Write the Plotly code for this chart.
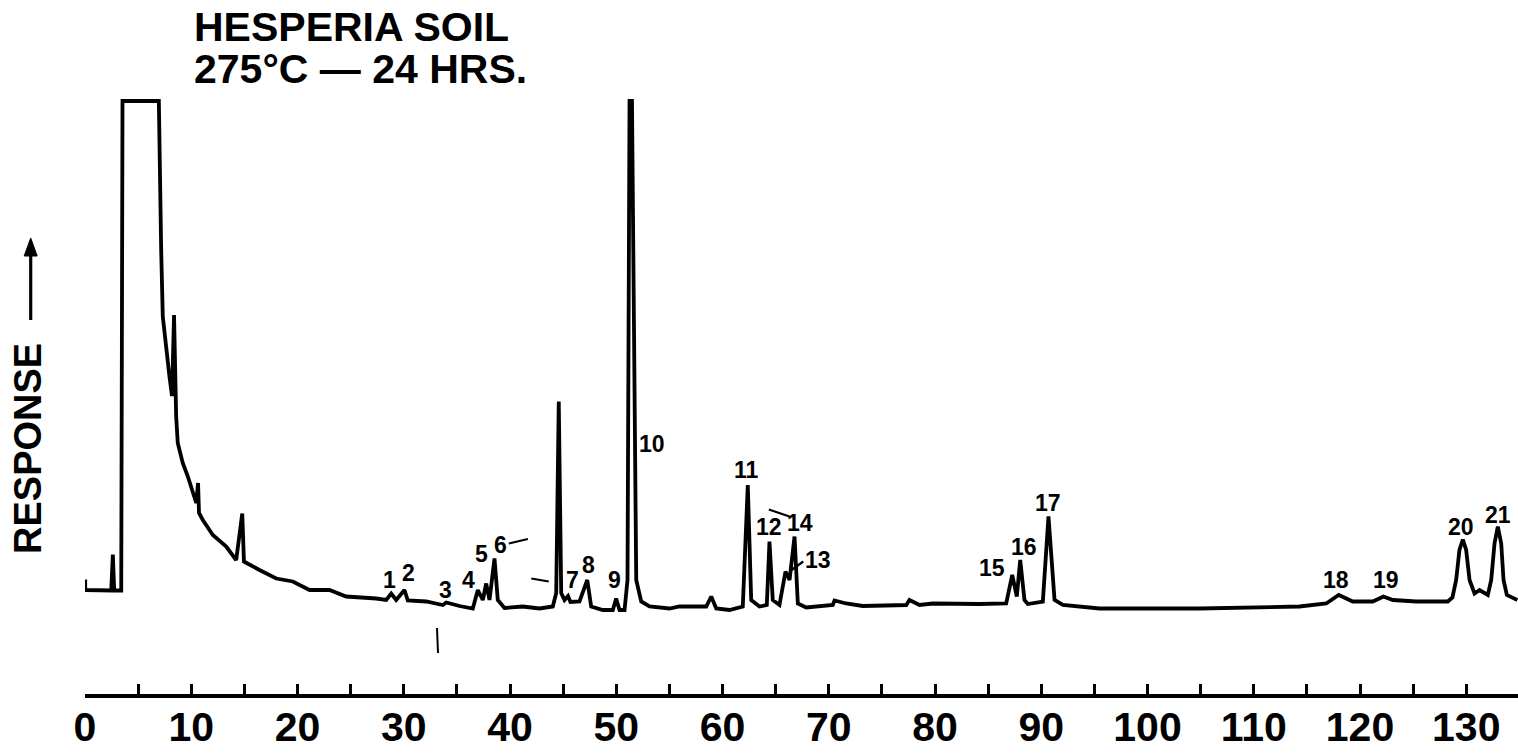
import plotly.graph_objects as go

# ---------------- data ----------------
# retention time in minutes
time_min = [0.02, 0.02, 2.47, 2.62, 2.75, 3.41, 3.53, 6.95, 7.17, 7.32, 7.95,
            8.09, 8.19, 8.38, 8.52, 8.58, 8.73, 9.20, 9.68, 10.47, 10.64, 10.73,
            11.09, 12.03, 13.29, 14.23, 14.80, 14.96, 16.42, 18.00, 19.56, 21.13,
            23.01, 24.58, 27.41, 28.35, 28.82, 29.29, 30.07, 30.38, 32.11, 33.68,
            34.00, 35.25, 36.50, 36.97, 37.44, 37.76, 38.07, 38.54, 38.85, 39.48,
            41.20, 42.78, 44.03, 44.35, 44.59, 44.82, 45.13, 45.46, 45.69, 46.54,
            47.27, 47.64, 48.73, 49.68, 49.99, 50.31, 50.78, 51.06, 51.25, 51.48,
            51.88, 52.35, 53.13, 55.01, 55.95, 58.47, 58.94, 59.41, 60.66, 61.91,
            62.38, 62.70, 63.48, 64.17, 64.42, 64.73, 65.36, 65.93, 66.31, 66.78,
            67.09, 67.88, 70.38, 70.54, 71.64, 73.20, 77.29, 77.60, 78.54, 79.79,
            84.19, 86.70, 87.27, 87.70, 88.02, 88.42, 88.73, 90.15, 90.68, 91.25,
            92.03, 93.60, 95.48, 104.89, 114.31, 116.82, 118.00, 119.32, 121.20,
            122.21, 123.09, 125.29, 128.26, 128.70, 129.05, 129.36, 129.68, 129.99,
            130.31, 130.78, 131.25, 132.03, 132.35, 132.66, 132.97, 133.29, 133.51,
            133.82, 134.71, 134.82]
# detector response, arbitrary units (baseline ~0)
response = [5.1, 3.0, 2.9, 10.1, 2.9, 2.9, 100.8, 100.8, 71.0, 57.7, 45.7,
            44.0, 41.8, 58.0, 41.0, 37.7, 32.4, 28.4, 25.7, 20.4, 24.4, 18.4,
            17.0, 14.0, 11.7, 9.0, 18.3, 8.7, 7.0, 5.3, 4.7, 3.0,
            3.0, 1.7, 1.3, 1.0, 2.3, 1.0, 3.0, 0.9, 0.7, 0.0,
            0.5, -0.2, -0.7, 3.0, 1.0, 4.3, 1.0, 9.3, 1.0, -0.6,
            -0.3, -0.7, -0.3, 2.4, 40.7, 2.4, 1.0, 1.8, 0.6, 0.7,
            5.0, -0.3, -1.0, -1.0, 1.3, -1.0, -1.0, 5.0, 100.8, 100.8,
            5.0, 0.7, -0.3, -0.7, -0.3, -0.3, 1.7, -0.7, -1.0, -0.3,
            24.0, 1.0, -0.3, 0.0, 12.7, 1.0, 0.0, 6.7, 5.0, 13.7,
            0.3, -0.5, 0.0, 0.9, 0.3, -0.2, 0.0, 1.0, 0.0, 0.3,
            0.2, 0.3, 6.0, 1.7, 9.0, 1.0, 0.2, 0.7, 17.7, 1.0,
            0.0, -0.3, -0.7, -0.7, -0.3, 0.3, 2.0, 0.7, 0.7,
            1.7, 1.0, 0.7, 0.7, 1.5, 5.0, 11.0, 13.1, 11.0,
            5.0, 2.3, 3.0, 2.0, 5.0, 12.3, 15.7, 12.3, 5.0,
            2.0, 1.0, 1.0]

peak_names = [str(i) for i in range(1, 22)]
label_time = [28.66, 30.48, 33.93, 36.12, 37.29, 39.08, 45.85, 47.42, 49.84,
              53.38, 62.23, 64.36, 68.97, 67.25, 85.38, 88.42, 90.62, 117.76,
              122.40, 129.52, 132.97]
label_resp = [5.0, 6.5, 3.1, 5.0, 10.3, 12.0, 5.0, 8.0, 5.0,
              32.3, 27.1, 15.7, 9.1, 16.5, 7.5, 11.7, 20.5, 5.1,
              5.1, 15.7, 18.0]

# leader strokes drawn next to some peak labels (time, response pairs)
leader_t0 = [39.89, 42.00, 64.36, 66.31]
leader_r0 = [12.3, 5.3, 19.1, 6.7]
leader_t1 = [41.68, 43.65, 66.31, 67.60]
leader_r1 = [13.2, 4.7, 17.7, 8.7]

tick_vals = list(range(0, 135, 5))
tick_text = [str(v) if v % 10 == 0 else "" for v in tick_vals]

# ---------------- layout geometry ----------------
W, H = 1518, 753
ML, MR, MT, MB = 85, 0, 0, 59
PW = W - ML - MR
PH = H - MT - MB


def px_x(px):
    return (px - ML) / PW


def px_y(py):
    return (H - MB - py) / PH


BOLD = "Liberation Sans, Arial, sans-serif"

fig = go.Figure()
fig.add_trace(go.Scatter(
    x=time_min, y=response, mode="lines",
    line=dict(color="black", width=3.8),
    hoverinfo="skip", showlegend=False,
))

annotations = []
for name, t, r in zip(peak_names, label_time, label_resp):
    annotations.append(dict(
        x=t, y=r, xref="x", yref="y", text=name, showarrow=False,
        xanchor="center", yanchor="middle",
        font=dict(family=BOLD, size=23, color="black", weight="bold"),
    ))

annotations += [
    dict(x=px_x(192), y=px_y(27), xref="paper", yref="paper",
         text="HESPERIA SOIL", showarrow=False, xanchor="left", yanchor="middle",
         font=dict(family=BOLD, size=41, color="black", weight="bold")),
    dict(x=px_x(192), y=px_y(69), xref="paper", yref="paper",
         text="275°C — 24 HRS.", showarrow=False, xanchor="left", yanchor="middle",
         font=dict(family=BOLD, size=41, color="black", weight="bold")),
    dict(x=px_x(28), y=px_y(449), xref="paper", yref="paper",
         text="RESPONSE", showarrow=False, textangle=-90,
         xanchor="center", yanchor="middle",
         font=dict(family=BOLD, size=38, color="black", weight="bold")),
]

shapes = []
for t0, r0, t1, r1 in zip(leader_t0, leader_r0, leader_t1, leader_r1):
    shapes.append(dict(type="line", xref="x", yref="y", x0=t0, y0=r0, x1=t1, y1=r1,
                       line=dict(color="black", width=2.2)))

# arrow of the response label
shapes.append(dict(type="line", xref="paper", yref="paper",
                   x0=px_x(30.7), y0=px_y(320), x1=px_x(30.7), y1=px_y(252),
                   line=dict(color="black", width=3.2)))
shapes.append(dict(type="path", xref="paper", yref="paper",
                   path=f"M {px_x(24.2)},{px_y(256)} L {px_x(37.2)},{px_y(256)} "
                        f"L {px_x(30.7)},{px_y(238)} Z",
                   fillcolor="black", line=dict(color="black", width=1)))
# stray pen mark below the baseline near 33 min
shapes.append(dict(type="line", xref="paper", yref="paper",
                   x0=px_x(437), y0=px_y(628), x1=px_x(438), y1=px_y(653),
                   line=dict(color="black", width=2)))

fig.update_layout(
    template="none",
    width=W, height=H,
    margin=dict(l=ML, r=MR, t=MT, b=MB, pad=0, autoexpand=False),
    paper_bgcolor="white", plot_bgcolor="white",
    showlegend=False,
    xaxis=dict(
        range=[0, PW / 10.625], showgrid=False, zeroline=False, automargin=False,
        showline=True, linecolor="black", linewidth=4, mirror=False,
        ticks="inside", ticklen=10, tickwidth=2.5, tickcolor="black",
        tickmode="array", tickvals=tick_vals, ticktext=tick_text,
        tickfont=dict(family=BOLD, size=41, color="black", weight="bold"),
        ticklabelstandoff=-6,
        fixedrange=True,
    ),
    yaxis=dict(range=[-17.8, 121.0], visible=False, fixedrange=True,
               automargin=False),
    annotations=annotations,
    shapes=shapes,
)

fig.write_html(
    "out.html",
    config={"displayModeBar": False},
    post_script="document.body.style.margin='0';document.body.style.overflow='hidden';",
)
